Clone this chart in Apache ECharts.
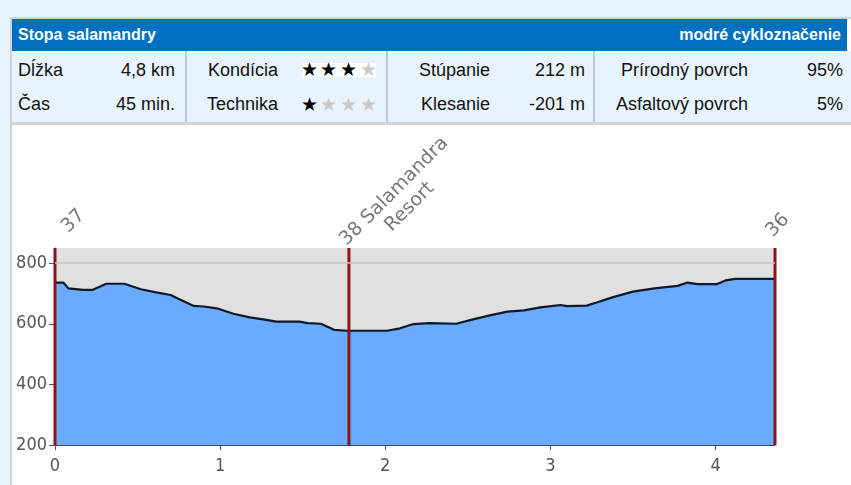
<!DOCTYPE html>
<html>
<head>
<meta charset="utf-8">
<script src="https://cdn.jsdelivr.net/npm/echarts@6/dist/echarts.min.js"></script>
<style>
  html, body { margin: 0; padding: 0; }
  body { width: 851px; height: 485px; overflow: hidden; background: #e8f4fd; position: relative;
         font-family: "Liberation Sans", Arial, sans-serif; }
  .abs { position: absolute; white-space: nowrap; }
  #panel { left: 10px; top: 17px; width: 850px; height: 480px; border-left: 2px solid #d2d2d2;
           border-top: 2px solid #d2d2d2; background: #ffffff; }
  #rows { left: 12px; top: 51px; width: 850px; height: 71px; background: #e8f4fd; }
  #rowsBottom { left: 12px; top: 122px; width: 850px; height: 3px; background: #d4d4d4; }
  #hdr { left: 12px; top: 19px; width: 835px; height: 32px; background: #0070c0; }
  .sep { top: 51px; width: 2px; height: 71px; background: #c6c6c6; }
  .hd { color: #fff; font-weight: bold; font-size: 16px; line-height: 18px; height: 18px; top: 26px; }
  .cell { font-size: 18px; line-height: 20px; height: 20px; color: #111; }
  .r { text-align: right; width: 200px; }
  .star { font-family: "DejaVu Sans", sans-serif; font-size: 19px; line-height: 16px; height: 16px; }
  #chart { position: absolute; left: 0; top: 0; width: 851px; height: 485px; }
</style>
</head>
<body>
<div id="panel" class="abs"></div>
<div id="rows" class="abs"></div>
<div id="rowsBottom" class="abs"></div>
<div id="hdr" class="abs"></div>
<div id="table"></div>
<div id="chart"></div>
<script>
// ---- data ----
const routeName = 'Stopa salamandry';
const routeMarking = 'modré cykloznačenie';
const row1 = ['Dĺžka', '4,8 km', 'Kondícia', 'Stúpanie', '212 m', 'Prírodný povrch', '95%'];
const row2 = ['Čas', '45 min.', 'Technika', 'Klesanie', '-201 m', 'Asfaltový povrch', '5%'];
const conditionStars = 3;
const techniqueStars = 1;
const maxStars = 4;

const distanceKm = [0, 0.05, 0.08, 0.17, 0.23, 0.31, 0.42, 0.52, 0.62, 0.70, 0.76, 0.84, 0.90, 0.98,
  1.08, 1.18, 1.28, 1.34, 1.48, 1.53, 1.61, 1.69, 1.77, 2.01, 2.09, 2.17, 2.27, 2.43, 2.52, 2.62,
  2.74, 2.84, 2.94, 3.06, 3.10, 3.22, 3.28, 3.38, 3.50, 3.63, 3.77, 3.83, 3.89, 4.01, 4.06, 4.12, 4.36];
const elevationM = [736, 736, 717, 712, 712, 732, 732, 714, 703, 695, 679, 659, 657, 651,
  633, 621, 613, 607, 607, 602, 600, 580, 577, 577, 585, 599, 602, 600, 613, 626,
  640, 644, 654, 662, 658, 660, 670, 688, 706, 717, 725, 736, 731, 731, 743, 748, 748];
const waypointKm = [0, 1.78, 4.36];
const waypointNames = ['37', '38 Salamandra\nResort', '36'];
const xTicks = [0, 1, 2, 3, 4];
const yTicks = [200, 400, 600, 800];
const xMax = 4.36;
const yMin = 200;
const yMax = 850;
const refLineM = 800;

// ---- table (HTML) ----
const table = document.getElementById('table');
function addText(text, cls, css) {
  const d = document.createElement('div');
  d.className = 'abs ' + cls;
  d.textContent = text;
  Object.assign(d.style, css);
  table.appendChild(d);
  return d;
}
[185, 386, 593].forEach(x => {
  const s = document.createElement('div');
  s.className = 'abs sep';
  s.style.left = x + 'px';
  table.appendChild(s);
});
addText(routeName, 'hd', { left: '18px' });
addText(routeMarking, 'hd r', { left: (841 - 200) + 'px' });

const rightEdges = [null, 175, 278, 490, 585, 748, 843];
function addRow(vals, top) {
  vals.forEach((v, i) => {
    if (i === 0) addText(v, 'cell', { left: '18px', top: top + 'px' });
    else addText(v, 'cell r', { left: (rightEdges[i] - 200) + 'px', top: top + 'px' });
  });
}
addRow(row1, 60);
addRow(row2, 94);

const box = document.createElement('div');
box.className = 'abs';
Object.assign(box.style, { left: '302px', top: '63px', width: '74px', height: '14px', background: '#fff' });
table.appendChild(box);
const starX = [301, 320, 340, 360];
function addStars(n, top) {
  for (let i = 0; i < maxStars; i++) {
    addText('★', 'star', { left: starX[i] + 'px', top: top + 'px', color: i < n ? '#000' : '#c8c8c8' });
  }
}
addStars(conditionStars, 61);
addStars(techniqueStars, 96);

// ---- chart ----
const labelOffsets = [[32, -6], [72, 3], [18, -14]];
const chart = echarts.init(document.getElementById('chart'), null, { renderer: 'canvas' });
const axisFont = 'DejaVu Sans Condensed';
const option = {
  animation: false,
  backgroundColor: 'transparent',
  grid: { left: 55, top: 248, width: 720, height: 197, show: true, backgroundColor: '#e0e0e0',
          borderWidth: 0, containLabel: false, outerBoundsMode: 'none' },
  xAxis: {
    type: 'value', min: 0, max: xMax,
    axisLine: { show: true, lineStyle: { color: '#3d4a5a', width: 1 } },
    axisTick: { show: true, length: 5, customValues: xTicks, lineStyle: { color: '#555' } },
    axisLabel: { customValues: xTicks, fontSize: 18, color: '#555', fontFamily: axisFont, margin: 12 },
    splitLine: { show: false }
  },
  yAxis: {
    type: 'value', min: yMin, max: yMax,
    axisLine: { show: true, lineStyle: { color: '#555', width: 1 } },
    axisTick: { show: true, length: 6, customValues: yTicks, lineStyle: { color: '#555' } },
    axisLabel: { customValues: yTicks, fontSize: 18, color: '#555', fontFamily: axisFont, margin: 8 },
    splitLine: { show: false }
  },
  series: [
    {
      type: 'line',
      data: distanceKm.map((d, i) => [d, elevationM[i]]),
      symbol: 'none',
      lineStyle: { color: '#0e1828', width: 2.2 },
      areaStyle: { color: '#6aabff', opacity: 1, origin: 'start' },
      z: 2,
      silent: true,
      markLine: {
        silent: true, symbol: 'none', label: { show: false },
        lineStyle: { color: '#c4c4c4', width: 1.5, type: 'solid' },
        data: [{ yAxis: refLineM }]
      }
    },
    ...waypointKm.map(x => ({
      type: 'line',
      data: [[x, yMin], [x, yMax]],
      symbol: 'none',
      clip: false,
      silent: true,
      lineStyle: { color: '#8b1414', width: 3 },
      z: 4
    })),
    {
      type: 'scatter',
      symbolSize: 0,
      silent: true,
      z: 5,
      data: waypointKm.map((x, i) => ({ value: [x, yMax], name: waypointNames[i],
        label: { offset: labelOffsets[i] } })),
      label: {
        show: true, formatter: '{b}', rotate: 45, position: 'inside', align: 'center',
        verticalAlign: 'middle', color: '#555', fontSize: 19, lineHeight: 22,
        fontFamily: 'DejaVu Sans'
      }
    }
  ]
};
chart.setOption(option);
</script>
</body>
</html>
